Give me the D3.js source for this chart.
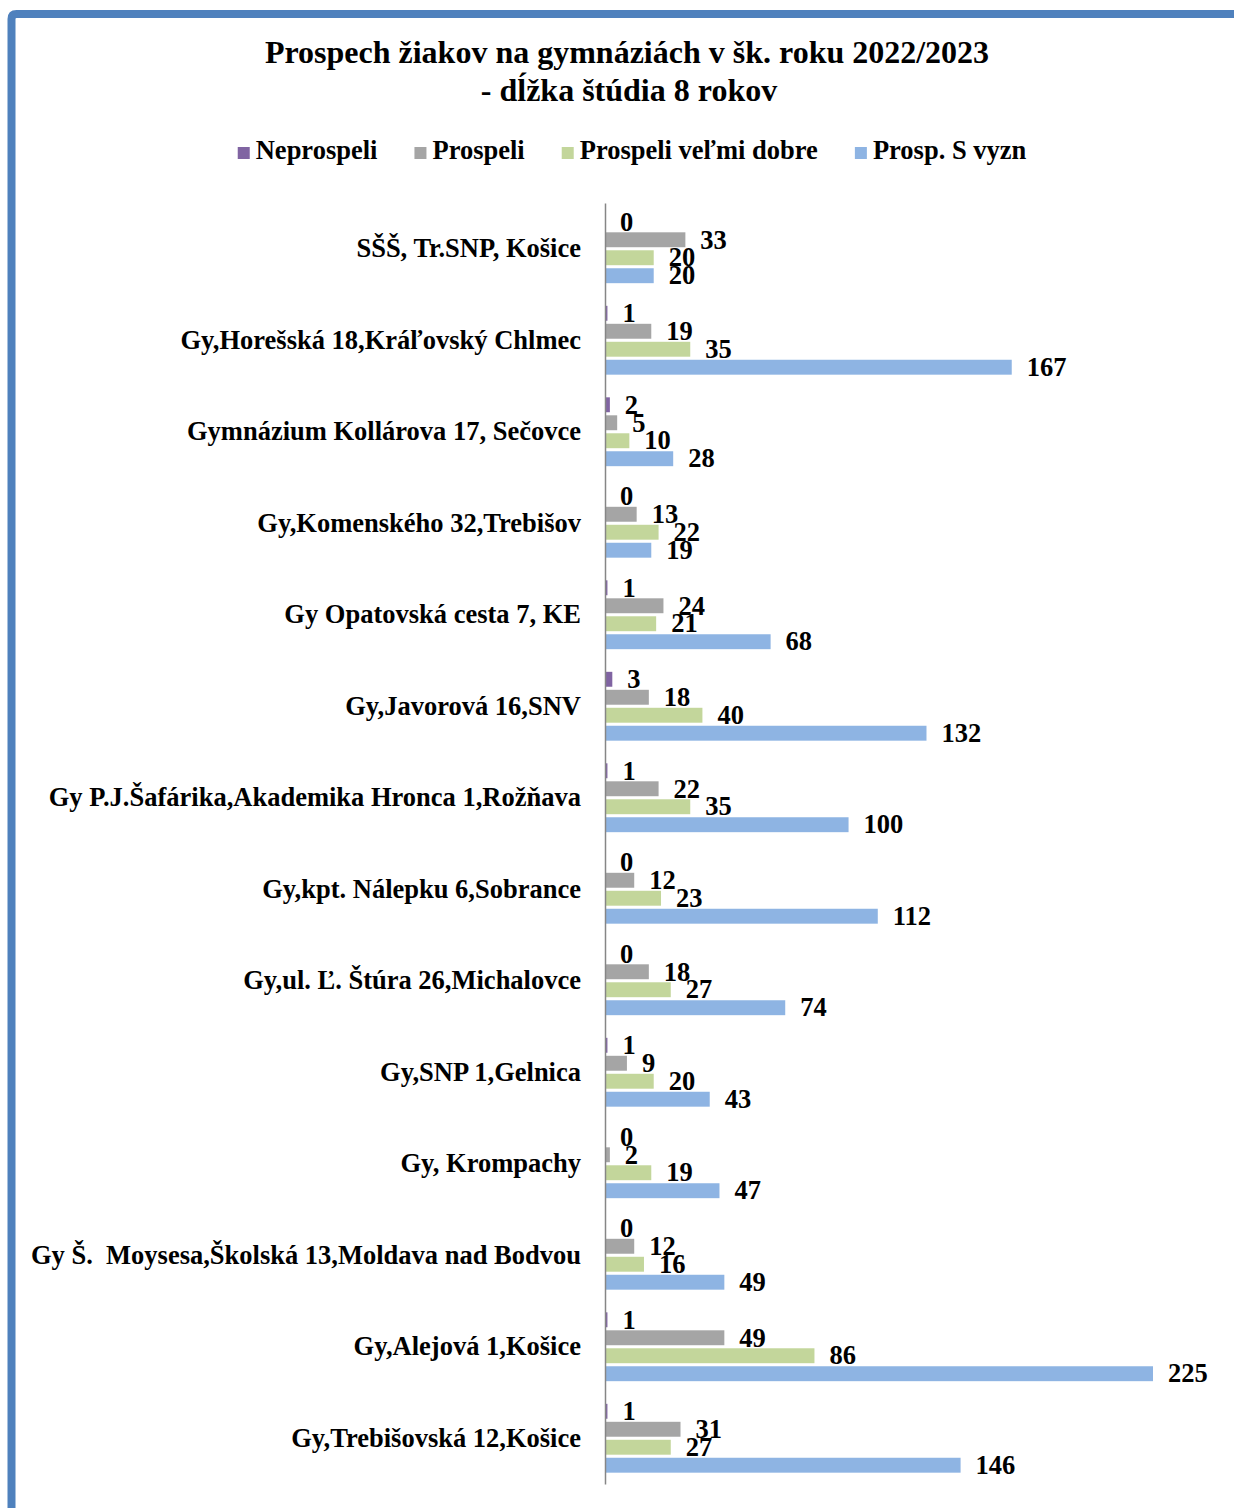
<!DOCTYPE html>
<html>
<head>
<meta charset="utf-8">
<script src="https://cdn.jsdelivr.net/npm/d3@7"></script>
<style>
  body { margin: 0; background: #fff; }
  svg text { font-family: "Liberation Serif", "Times New Roman", serif; font-weight: bold; fill: #000; }
</style>
</head>
<body>
<div id="chart"></div>
<script>
// data
var schools = [
    "SŠŠ, Tr.SNP, Košice",
    "Gy,Horešská 18,Kráľovský Chlmec",
    "Gymnázium Kollárova 17, Sečovce",
    "Gy,Komenského 32,Trebišov",
    "Gy Opatovská cesta 7, KE",
    "Gy,Javorová 16,SNV",
    "Gy P.J.Šafárika,Akademika Hronca 1,Rožňava",
    "Gy,kpt. Nálepku 6,Sobrance",
    "Gy,ul. Ľ. Štúra 26,Michalovce",
    "Gy,SNP 1,Gelnica",
    "Gy, Krompachy",
    "Gy Š.  Moysesa,Školská 13,Moldava nad Bodvou",
    "Gy,Alejová 1,Košice",
    "Gy,Trebišovská 12,Košice"
];
var seriesNames = ["Neprospeli", "Prospeli", "Prospeli veľmi dobre", "Prosp. S vyzn"];
var neprospeli   = [0, 1, 2, 0, 1, 3, 1, 0, 0, 1, 0, 0, 1, 1];
var prospeli     = [33, 19, 5, 13, 24, 18, 22, 12, 18, 9, 2, 12, 49, 31];
var velmiDobre   = [20, 35, 10, 22, 21, 40, 35, 23, 27, 20, 19, 16, 86, 27];
var sVyznamenanim = [20, 167, 28, 19, 68, 132, 100, 112, 74, 43, 47, 49, 225, 146];
var colors = ["#8064A2", "#A5A5A5", "#C3D69B", "#8EB4E3"];

var seriesValues = [neprospeli, prospeli, velmiDobre, sVyznamenanim];

var width = 1234, height = 1508;
var svg = d3.select("#chart").append("svg")
    .attr("width", width)
    .attr("height", height);

svg.append("rect").attr("width", width).attr("height", height).attr("fill", "#fff");

//frame, open to the right and bottom
svg.append("path")
    .attr("d", "M11.5," + height + " L11.5,19 Q11.5,14 16.5,14 L" + width + ",14")
    .attr("fill", "none")
    .attr("stroke", "#4F81BD")
    .attr("stroke-width", 8);

//title
var title = svg.append("text")
    .attr("text-anchor", "middle")
    .style("font-size", "32px");
title.append("tspan").attr("x", 627).attr("y", 63).text("Prospech žiakov na gymnáziách v šk. roku 2022/2023");
title.append("tspan").attr("x", 629).attr("y", 101).text("- dĺžka štúdia 8 rokov");

//legend
var legend = svg.append("g").attr("class", "legend");
var lx = 0;
seriesNames.forEach(function(name, i) {
    var g = legend.append("g").attr("transform", "translate(" + lx + ",0)");
    g.append("rect").attr("x", 0).attr("y", -12).attr("width", 12).attr("height", 12).attr("fill", colors[i]);
    var t = g.append("text").attr("x", 18).attr("y", 0).style("font-size", "26.5px").text(name);
    lx += 18 + t.node().getComputedTextLength() + 37;
});
lx -= 37;
legend.attr("transform", "translate(" + (632 - lx / 2) + ",159)");

//scales
var x0 = 605;
var x = d3.scaleLinear().domain([0, 225]).range([x0, 1153]);
var y = d3.scaleBand().domain(schools).range([203, 1484]);
var ySub = d3.scaleBand().domain(seriesNames).range([0, y.bandwidth()])
    .paddingInner(0.17).paddingOuter(0.63);

var rows = schools.map(function(s, i) {
    return seriesNames.map(function(name, k) {
        return {school: s, series: name, value: seriesValues[k][i], color: colors[k]};
    });
});

var groups = svg.append("g").selectAll("g")
    .data(rows)
    .enter()
    .append("g")
    .attr("transform", function(d, i) { return "translate(0," + y(schools[i]) + ")"; });

groups.selectAll("rect")
    .data(function(d) { return d; })
    .enter()
    .append("rect")
    .attr("x", x(0))
    .attr("y", function(d) { return ySub(d.series); })
    .attr("width", function(d) { return x(d.value) - x(0); })
    .attr("height", ySub.bandwidth())
    .attr("fill", function(d) { return d.color; });

groups.selectAll("text")
    .data(function(d) { return d; })
    .enter()
    .append("text")
    .attr("x", function(d) { return x(d.value) + 15; })
    .attr("y", function(d) { return ySub(d.series) + ySub.bandwidth() / 2; })
    .attr("dy", "0.33em")
    .style("font-size", "26.5px")
    .text(function(d) { return d.value; });

//category axis
var axis = svg.append("g")
    .attr("transform", "translate(" + x0 + ",0)")
    .call(d3.axisLeft(y).tickSize(0).tickSizeOuter(0).tickPadding(24));
axis.select(".domain").attr("stroke", "#868686").attr("stroke-width", 1.5);
axis.selectAll(".tick text")
    .style("font-size", "26.5px")
    .style("font-family", "'Liberation Serif', 'Times New Roman', serif")
    .style("white-space", "pre")
    .attr("fill", "#000");
</script>
</body>
</html>
